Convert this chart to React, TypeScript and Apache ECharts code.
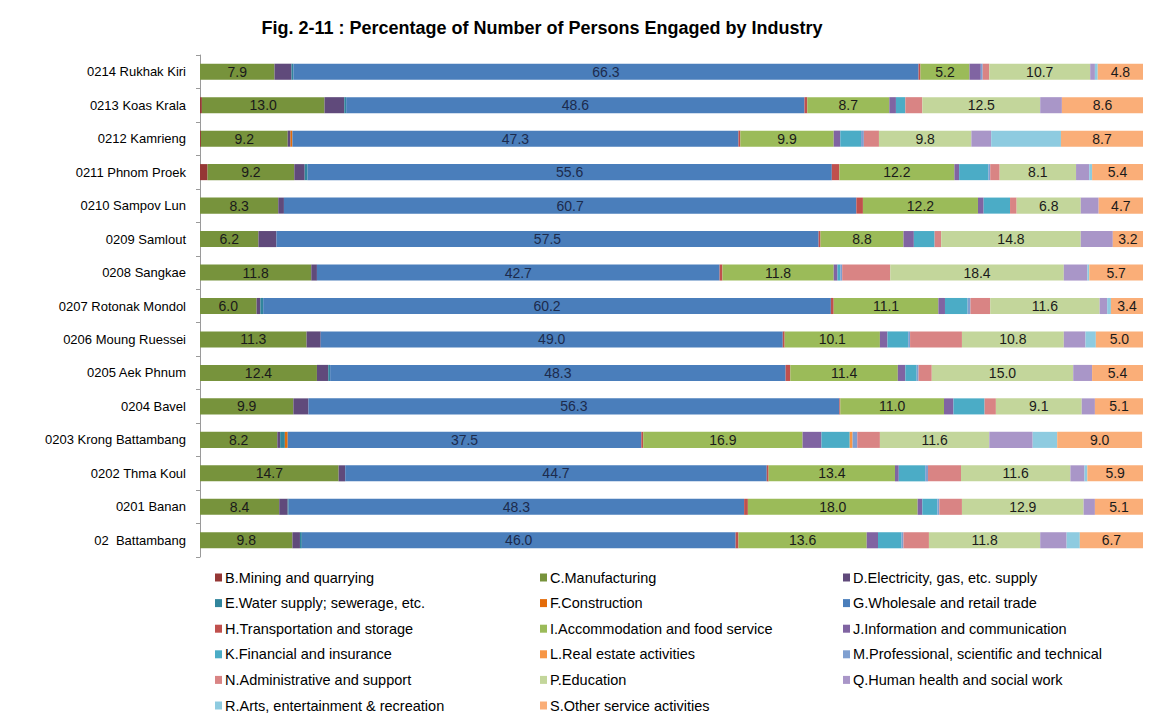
import React, { useEffect, useRef } from "react";
import * as echarts from "echarts";

const categories = [
  "0214 Rukhak Kiri",
  "0213 Koas Krala",
  "0212 Kamrieng",
  "0211 Phnom Proek",
  "0210 Sampov Lun",
  "0209 Samlout",
  "0208 Sangkae",
  "0207 Rotonak Mondol",
  "0206 Moung Ruessei",
  "0205 Aek Phnum",
  "0204 Bavel",
  "0203 Krong Battambang",
  "0202 Thma Koul",
  "0201 Banan",
  "02  Battambang",
];

const industryNames = [
  "B.Mining and quarrying",
  "C.Manufacturing",
  "D.Electricity, gas, etc. supply",
  "E.Water supply; sewerage, etc.",
  "F.Construction",
  "G.Wholesale and retail trade",
  "H.Transportation and storage",
  "I.Accommodation and food service",
  "J.Information and communication",
  "K.Financial and insurance",
  "L.Real estate activities",
  "M.Professional, scientific and technical",
  "N.Administrative and support",
  "P.Education",
  "Q.Human health and social work",
  "R.Arts, entertainment & recreation",
  "S.Other service activities",
];

const B = [0, 0.2, 0.1, 0.8, 0, 0, 0, 0, 0, 0, 0, 0, 0, 0, 0];
const C = [7.9, 13.0, 9.2, 9.2, 8.3, 6.2, 11.8, 6.0, 11.3, 12.4, 9.9, 8.2, 14.7, 8.4, 9.8];
const D = [1.8, 2.1, 0.3, 1.1, 0.6, 1.9, 0.6, 0.4, 1.5, 1.2, 1.6, 0.3, 0.7, 0.9, 0.8];
const E = [0.2, 0.2, 0, 0.3, 0, 0, 0, 0.3, 0, 0.2, 0, 0.5, 0, 0.1, 0.2];
const F = [0, 0, 0.2, 0, 0, 0, 0, 0, 0, 0, 0, 0.3, 0, 0, 0];
const G = [66.3, 48.6, 47.3, 55.6, 60.7, 57.5, 42.7, 60.2, 49.0, 48.3, 56.3, 37.5, 44.7, 48.3, 46.0];
const H = [0.2, 0.3, 0.2, 0.8, 0.7, 0.2, 0.3, 0.3, 0.2, 0.5, 0.1, 0.2, 0.2, 0.4, 0.3];
const I = [5.2, 8.7, 9.9, 12.2, 12.2, 8.8, 11.8, 11.1, 10.1, 11.4, 11.0, 16.9, 13.4, 18.0, 13.6];
const J = [1.2, 0.7, 0.7, 0.5, 0.6, 1.1, 0.4, 0.7, 0.8, 0.8, 1.0, 2.0, 0.4, 0.5, 1.2];
const K = [0, 1.0, 2.2, 3.1, 2.8, 2.2, 0.3, 2.4, 2.2, 1.2, 3.3, 3.0, 2.8, 1.6, 2.5];
const L = [0, 0, 0, 0, 0, 0, 0, 0, 0, 0, 0, 0.3, 0, 0, 0];
const M = [0.2, 0, 0.3, 0.2, 0, 0, 0.2, 0.3, 0.2, 0.2, 0, 0.5, 0.3, 0.2, 0.2];
const N = [0.7, 1.8, 1.6, 1.0, 0.7, 0.7, 5.1, 2.1, 5.5, 1.4, 1.2, 2.4, 3.5, 2.4, 2.7];
const P = [10.7, 12.5, 9.8, 8.1, 6.8, 14.8, 18.4, 11.6, 10.8, 15.0, 9.1, 11.6, 11.6, 12.9, 11.8];
const Q = [0.5, 2.3, 2.1, 1.4, 1.9, 3.4, 2.5, 0.8, 2.3, 2.0, 1.4, 4.6, 1.5, 1.2, 2.8];
const R = [0.3, 0, 7.4, 0.3, 0, 0, 0.2, 0.4, 1.1, 0, 0, 2.6, 0.3, 0, 1.4];
const S = [4.8, 8.6, 8.7, 5.4, 4.7, 3.2, 5.7, 3.4, 5.0, 5.4, 5.1, 9.0, 5.9, 5.1, 6.7];

const seriesValues = [B, C, D, E, F, G, H, I, J, K, L, M, N, P, Q, R, S];
const labelled = [false, true, false, false, false, true, false, true, false, false, false, false, false, true, false, false, true];

const colors = [
  "#953735", "#77933C", "#604A7B", "#31859C", "#E46C0A", "#4A7EBB",
  "#C0504D", "#9BBB59", "#8064A2", "#4BACC6", "#F79646", "#7F9FD0",
  "#D98484", "#C3D69B", "#A996C8", "#8ECBE0", "#FAAE78",
];

const FONT = "'Liberation Sans', Arial, sans-serif";

export default function App() {
  const ref = useRef<HTMLDivElement>(null);
  useEffect(() => {
    if (!ref.current) return;
    const chart = echarts.init(ref.current, null, { renderer: "svg" });
    const series = seriesValues.map((vals, i) => ({
      name: industryNames[i],
      type: "bar",
      stack: "total",
      barWidth: "48%",
      data: vals,
      itemStyle: { color: colors[i] },
      label: {
        show: labelled[i],
        position: "inside",
        formatter: (p: any) => (p.value ? Number(p.value).toFixed(1) : ""),
        color: i === 5 ? "#1c2b4d" : "#1a1a1a",
        fontSize: 14,
        fontFamily: FONT,
      },
    }));
    const cols = [0, 1, 2].map((c) =>
      industryNames.filter((_, i) => i % 3 === c)
    );
    const legendX = [210, 535, 838];
    chart.setOption({
      animation: false,
      backgroundColor: "#ffffff",
      title: {
        text: "Fig. 2-11 : Percentage of Number of Persons Engaged by Industry",
        left: 537,
        textAlign: "center",
        top: 14,
        textStyle: { fontSize: 18, fontWeight: "bold", color: "#000", fontFamily: FONT },
      },
      legend: cols.map((d, c) => ({
        data: d,
        orient: "vertical",
        left: legendX[c],
        top: 564,
        height: 160,
        itemWidth: 7,
        itemHeight: 8,
        itemGap: 8.6,
        icon: "rect",
        textStyle: { fontSize: 14.5, lineHeight: 17, color: "#000", fontFamily: FONT, padding: [0, 0, 0, -2] },
        selectedMode: false,
      })),
      grid: { left: 200, right: 14, top: 55, bottom: 162 },
      xAxis: {
        type: "value",
        min: 0,
        max: 100,
        show: false,
      },
      yAxis: {
        type: "category",
        inverse: true,
        data: categories,
        axisLine: { show: true, lineStyle: { color: "#9a9a9a", width: 1 } },
        axisTick: { show: true, length: 4, lineStyle: { color: "#9a9a9a" } },
        axisLabel: { color: "#000", fontSize: 13, fontFamily: FONT, margin: 14 },
      },
      series,
    });
    return () => chart.dispose();
  }, []);
  return (
    <div
      ref={ref}
      style={{ position: "fixed", left: 0, top: 0, width: 1157, height: 719 }}
    />
  );
}
